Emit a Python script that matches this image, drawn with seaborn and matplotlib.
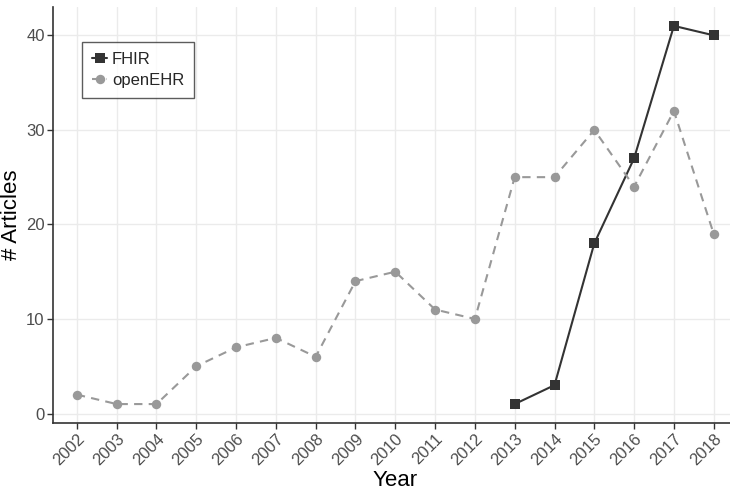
import numpy as np
import pandas as pd
import seaborn as sns
import matplotlib
matplotlib.use("Agg")
import matplotlib.pyplot as plt

years_openehr = [2002, 2003, 2004, 2005, 2006, 2007, 2008, 2009, 2010, 2011, 2012, 2013, 2014, 2015, 2016, 2017, 2018]
openehr = [2, 1, 1, 5, 7, 8, 6, 14, 15, 11, 10, 25, 25, 30, 24, 32, 19]
years_fhir = [2013, 2014, 2015, 2016, 2017, 2018]
fhir = [1, 3, 18, 27, 41, 40]
all_years = list(range(2002, 2019))
y_ticks = [0, 10, 20, 30, 40]

df = pd.concat([
    pd.DataFrame({"Year": years_fhir, "Articles": fhir, "Standard": "FHIR"}),
    pd.DataFrame({"Year": years_openehr, "Articles": openehr, "Standard": "openEHR"}),
])

sns.set_theme(style="whitegrid")
plt.rcParams["font.family"] = ["Liberation Sans", "DejaVu Sans"]

fig = plt.figure(figsize=(7.3, 4.95), dpi=100)
ax = fig.add_axes([0.0726, 0.1455, 0.9378, 0.8404])

palette = {"FHIR": "#333333", "openEHR": "#999999"}
sns.lineplot(data=df, x="Year", y="Articles", hue="Standard", style="Standard",
             palette=palette, markers={"FHIR": "s", "openEHR": "o"},
             dashes={"FHIR": "", "openEHR": (4, 3)}, markersize=6.8,
             markeredgewidth=0, linewidth=1.5, ax=ax)

ax.set_xlim(2002 - 0.6, 2018 + 0.6)
ax.set_ylim(-1, 43)
ax.set_xticks(all_years)
ax.set_xticklabels([str(y) for y in all_years], rotation=45, ha="right",
                   rotation_mode="anchor", fontsize=12, color="#4d4d4d")
ax.set_yticks(y_ticks)
ax.set_yticklabels([str(t) for t in y_ticks], fontsize=12, color="#4d4d4d")
ax.set_xlabel("Year", fontsize=16, color="black", labelpad=1)
ax.set_ylabel("# Articles", fontsize=16, color="black", labelpad=3)

ax.grid(True, color="#ebebeb", linewidth=1.0)
for s in ["top", "right"]:
    ax.spines[s].set_visible(False)
for s in ["left", "bottom"]:
    ax.spines[s].set_visible(True)
    ax.spines[s].set_color("#333333")
    ax.spines[s].set_linewidth(1.2)
ax.tick_params(axis="both", which="both", length=4, width=1, color="#333333",
               bottom=True, left=True, pad=2)

leg = ax.legend(loc="upper left", bbox_to_anchor=(0.0424, 0.916), fontsize=12,
                frameon=True, fancybox=False, edgecolor="#333333",
                handlelength=0.9, handletextpad=0.3, borderpad=0.6,
                labelspacing=0.35, borderaxespad=0)
leg.get_frame().set_linewidth(1.0)

fig.savefig("out.png", dpi=100)
